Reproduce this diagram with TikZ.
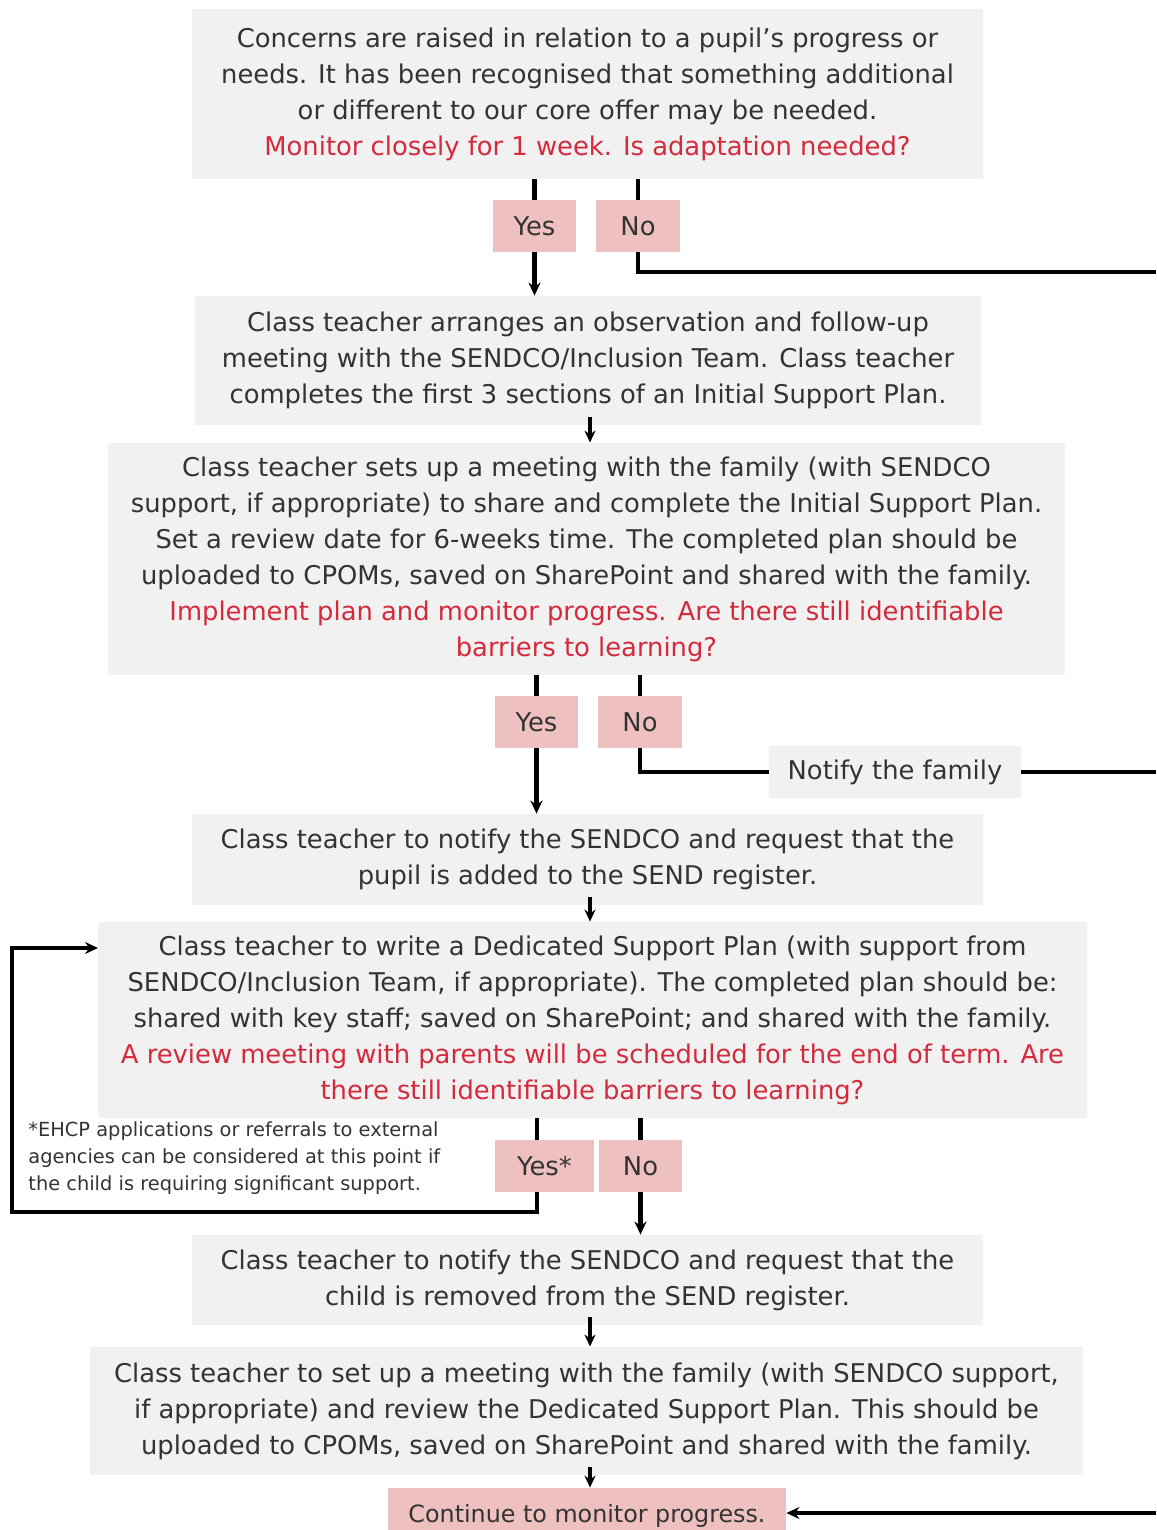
\documentclass[tikz,border=0pt]{standalone}
\usepackage{fontspec}
\setmainfont{DejaVu Sans}
\usetikzlibrary{positioning}
\usetikzlibrary{arrows.meta}

\definecolor{boxgray}{HTML}{F1F1F1}
\definecolor{answerpink}{HTML}{EFC0C0}
\definecolor{askred}{HTML}{D42A3C}

\tikzset{
  stagebox/.style={fill=boxgray, inner sep=0pt, align=center,
    font=\fontsize{12.9}{18}\selectfont, text=black!80},
  answer/.style={fill=answerpink, inner sep=0pt, minimum width=41.5, minimum height=26,
    font=\fontsize{12.9}{18}\selectfont, text=black!80},
  link/.style={line width=2.2pt},
  flow/.style={line width=2.2pt, -{Stealth[length=6.5pt,width=6pt]}},
  shortflow/.style={line width=1.6pt, -{Stealth[length=6pt,width=5.5pt]}},
}

\begin{document}
\begin{tikzpicture}[x=0.5pt,y=-0.5pt]
        \useasboundingbox (0,0) rectangle (1156,1530);
        \def\ask#1{\textcolor{askred}{#1}} % question en rouge

        % Etapes (boites grises)
        \node[stagebox, minimum width=395.5, minimum height=85] (concern) at (587.5,94)
          {Concerns are raised in relation to a pupil's progress or\\
           needs. It has been recognised that something additional\\
           or different to our core offer may be needed.\\
           \ask{Monitor closely for 1 week. Is adaptation needed?}};
        \node[stagebox, minimum width=393, minimum height=64.5] (observe) at (588,360.5)
          {Class teacher arranges an observation and follow-up\\
           meeting with the SENDCO/Inclusion Team. Class teacher\\
           completes the first 3 sections of an Initial Support Plan.};
        \node[stagebox, minimum width=478.5, minimum height=116] (initplan) at (586.5,559)
          {Class teacher sets up a meeting with the family (with SENDCO\\
           support, if appropriate) to share and complete the Initial Support Plan.\\
           Set a review date for 6-weeks time. The completed plan should be\\
           uploaded to CPOMs, saved on SharePoint and shared with the family.\\
           \ask{Implement plan and monitor progress. Are there still identifiable}\\
           \ask{barriers to learning?}};
        \node[stagebox, minimum width=395.5, minimum height=45.5] (addreg) at (587.5,859.5)
          {Class teacher to notify the SENDCO and request that the\\
           pupil is added to the SEND register.};
        \node[stagebox, minimum width=494.5, minimum height=98] (dedplan) at (592.5,1020)
          {Class teacher to write a Dedicated Support Plan (with support from\\
           SENDCO/Inclusion Team, if appropriate). The completed plan should be:\\
           shared with key staff; saved on SharePoint; and shared with the family.\\
           \ask{A review meeting with parents will be scheduled for the end of term. Are}\\
           \ask{there still identifiable barriers to learning?}};
        \node[stagebox, minimum width=395.5, minimum height=45] (removereg) at (587.5,1280)
          {Class teacher to notify the SENDCO and request that the\\
           child is removed from the SEND register.};
        \node[stagebox, minimum width=496.5, minimum height=64] (review) at (586.5,1411)
          {Class teacher to set up a meeting with the family (with SENDCO support,\\
           if appropriate) and review the Dedicated Support Plan. This should be\\
           uploaded to CPOMs, saved on SharePoint and shared with the family.};
        \node[stagebox, minimum width=126, minimum height=26] (notify) at (895,772)
          {Notify the family};
        \node[answer, minimum width=199, minimum height=28,
          font=\fontsize{11.9}{18}\selectfont] (monitor) at (587,1516) {Continue to monitor progress.};

        % Reponses Oui / Non
        \node[answer] (yesA) at (534.5,226) {Yes};
        \node[answer, minimum width=42] (noA) at (638,226) {No};
        \node[answer] (yesB) at (536.5,722) {Yes};
        \node[answer, minimum width=42] (noB) at (640,722) {No};
        \node[answer, minimum width=49.5] (yesC) at (544.5,1166) {Yes*};
        \node[answer] (noC) at (640.5,1166) {No};

        % Note EHCP
        \node[anchor=north west, inner sep=0pt, align=left, text=black!80,
          font=\fontsize{9.7}{13.6}\selectfont] (ehcp) at (28,1121)
          {*EHCP applications or referrals to external\\
           agencies can be considered at this point if\\
           the child is requiring significant support.};

        % Points libres (bord droit et boucle)
        \coordinate (edgeA) at (1156,272);
        \coordinate (edgeB) at (1156,776);
        \coordinate (edgeC) at (1156,1513);
        \coordinate (yesCx) at (537,1212);
        \coordinate (loopL) at (12,1212);
        \coordinate (loopIn) at (98,948);
        \coordinate (midx) at (590,0);

        % Connecteurs
        \draw[link] (yesA.north |- concern.south) -- (yesA.north);
        \draw[flow] (yesA.south) -- (yesA.south |- observe.north);
        \draw[link] (noA.north |- concern.south) -- (noA.north);
        \draw[link] (noA.south) |- (edgeA);
        \draw[shortflow] ([yshift=4pt]midx |- observe.south) -- (midx |- initplan.north);
        \draw[link] (yesB.north |- initplan.south) -- (yesB.north);
        \draw[flow] (yesB.south) -- (yesB.south |- addreg.north);
        \draw[link] (noB.north |- initplan.south) -- (noB.north);
        \draw[link] (noB.south) |- (notify.west);
        \draw[link] (notify.east) -- (notify.east -| edgeB);
        \draw[shortflow] ([yshift=4pt]midx |- addreg.south) -- (midx |- dedplan.north);
        \draw[link] (yesCx |- dedplan.south) -- (yesCx |- yesC.north);
        \draw[flow] (yesCx |- yesC.south) -- (yesCx) -- (loopL) |- (loopIn);
        \draw[link] (noC.north |- dedplan.south) -- (noC.north);
        \draw[flow] (noC.south) -- (noC.south |- removereg.north);
        \draw[shortflow] ([yshift=4pt]midx |- removereg.south) -- (midx |- review.north);
        \draw[shortflow] ([yshift=4pt]midx |- review.south) -- (midx |- monitor.north);
        \draw[flow] (edgeC) -- (edgeC -| monitor.east);
\end{tikzpicture}
\end{document}
